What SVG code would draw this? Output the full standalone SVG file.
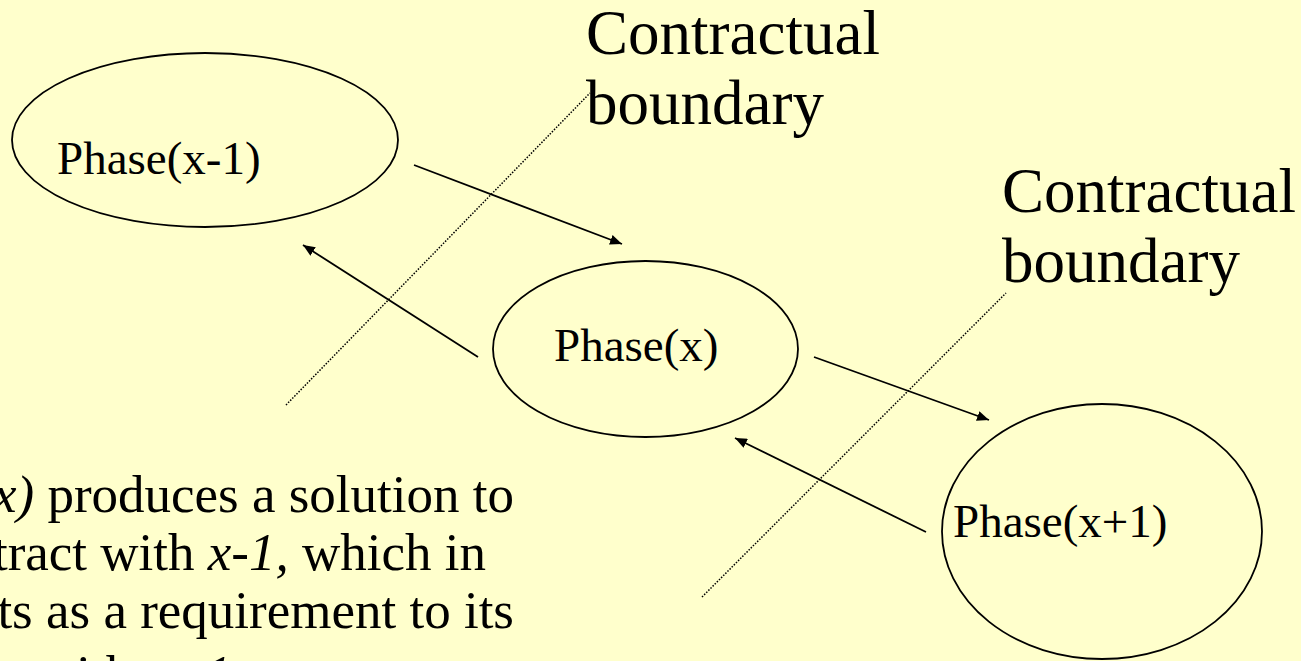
<svg xmlns="http://www.w3.org/2000/svg" width="1301" height="661" viewBox="0 0 1301 661">
<style>
.bg{fill:#FFFFCC}
.node ellipse{fill:#FFFFCC;stroke:#000;stroke-width:1.8}
text{font-family:'Liberation Serif','Times New Roman',Times,serif;fill:#000}
.lbl{font-size:47px}
.big{font-size:63px}
.body{font-size:53px}
.arrow{stroke:#000;stroke-width:1.8;fill:none;marker-end:url(#ah)}
.dot{stroke:#000;stroke-width:1.5;fill:none;stroke-dasharray:1.5 1.5}
</style>
<defs>
<marker id="ah" markerUnits="userSpaceOnUse" viewBox="0 0 12 10" refX="12" refY="5" markerWidth="12" markerHeight="10" orient="auto">
<path d="M0,0 L12,5 L0,10 z" fill="#000"/>
</marker>
</defs>
<rect class="bg" x="0" y="0" width="1301" height="661"/>
<g id="node-phase-x-minus-1" class="node">
<ellipse cx="205" cy="140" rx="193" ry="87"/>
<text class="lbl" x="57" y="174" font-family="Liberation Serif, serif">Phase(x-1)</text>
</g>
<g id="node-phase-x" class="node">
<ellipse cx="645.5" cy="349" rx="152.5" ry="88"/>
<text class="lbl" x="554" y="361" font-family="Liberation Serif, serif">Phase(x)</text>
</g>
<g id="node-phase-x-plus-1" class="node">
<ellipse cx="1102" cy="531.5" rx="160" ry="127.5"/>
<text class="lbl" x="953" y="537" font-family="Liberation Serif, serif">Phase(x+1)</text>
</g>
<g id="connectors">
<line class="arrow" x1="414" y1="165" x2="622" y2="244"/>
<line class="arrow" x1="478" y1="357" x2="303" y2="245"/>
<line class="arrow" x1="814" y1="357" x2="989" y2="420"/>
<line class="arrow" x1="926" y1="532" x2="735" y2="438"/>
<line class="dot" x1="286" y1="405" x2="590" y2="93"/>
<line class="dot" x1="702" y1="597" x2="1006" y2="293"/>
</g>
<g id="label-boundary-1">
<text class="big" x="586" y="54" font-family="Liberation Serif, serif">Contractual</text>
<text class="big" x="586" y="124" font-family="Liberation Serif, serif">boundary</text>
</g>
<g id="label-boundary-2">
<text class="big" x="1002" y="212" font-family="Liberation Serif, serif">Contractual</text>
<text class="big" x="1002" y="282" font-family="Liberation Serif, serif">boundary</text>
</g>
<g id="caption" font-family="Liberation Serif, serif">
<text class="body" x="514" y="512" text-anchor="end"><tspan font-style="italic">x)</tspan> produces a solution to</text>
<text class="body" x="486" y="570" text-anchor="end">tract with <tspan font-style="italic">x-1,</tspan> which in</text>
<text class="body" x="514" y="628" text-anchor="end">ts as a requirement to its</text>
<text class="body" x="38" y="692">with <tspan font-style="italic">x+1</tspan></text>
</g>
</svg>
